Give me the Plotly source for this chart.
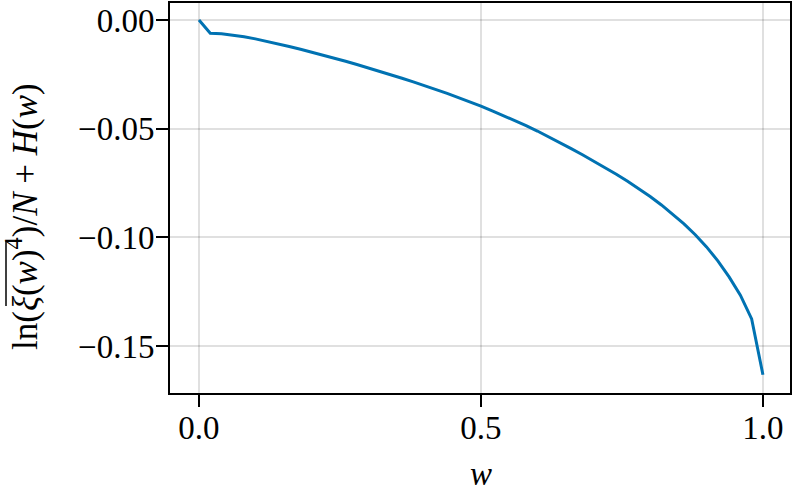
import plotly.graph_objects as go

w = [0.00, 0.02, 0.04, 0.06, 0.08, 0.10, 0.12, 0.14, 0.16, 0.18,
     0.20, 0.22, 0.24, 0.26, 0.28, 0.30, 0.32, 0.34, 0.36, 0.38,
     0.40, 0.42, 0.44, 0.46, 0.48, 0.50, 0.52, 0.54, 0.56, 0.58,
     0.60, 0.62, 0.64, 0.66, 0.68, 0.70, 0.72, 0.74, 0.76, 0.78,
     0.80, 0.82, 0.84, 0.86, 0.88, 0.90, 0.92, 0.94, 0.96, 0.98, 1.00]
val = [0.0000, -0.0061, -0.0063, -0.0069, -0.0077, -0.0087, -0.0098, -0.0110, -0.0122, -0.0135,
       -0.0148, -0.0162, -0.0176, -0.0190, -0.0205, -0.0220, -0.0236, -0.0252, -0.0268, -0.0285,
       -0.0302, -0.0320, -0.0338, -0.0357, -0.0376, -0.0396, -0.0418, -0.0440, -0.0463, -0.0486,
       -0.0511, -0.0537, -0.0564, -0.0592, -0.0620, -0.0649, -0.0679, -0.0710, -0.0742, -0.0776,
       -0.0812, -0.0851, -0.0893, -0.0938, -0.0988, -0.1044, -0.1108, -0.1182, -0.1266, -0.1375, -0.1632]

xticks = [0.0, 0.5, 1.0]
xticklabels = ["0.0", "0.5", "1.0"]
yticks = [0.0, -0.05, -0.10, -0.15]
yticklabels = ["0.00", "\u22120.05", "\u22120.10", "\u22120.15"]

font = "Liberation Serif"

fig = go.Figure()
fig.add_trace(go.Scatter(x=w, y=val, mode="lines",
                         line=dict(color="#0072B2", width=3), showlegend=False))

axis_common = dict(showline=True, linecolor="black", linewidth=2, mirror=True,
                   showgrid=True, gridcolor="rgba(0,0,0,0.12)", gridwidth=1.5,
                   zeroline=False, ticks="outside", ticklen=12, tickwidth=2,
                   automargin=False,
                   tickcolor="black", tickfont=dict(family=font, size=33, color="black"))

fig.update_layout(
    width=793, height=491,
    margin=dict(l=170, r=3, t=3, b=98),
    plot_bgcolor="white", paper_bgcolor="white",
    xaxis=dict(range=[-0.0514, 1.048], tickvals=xticks, ticktext=xticklabels,
               ticklabelstandoff=-8, **axis_common),
    yaxis=dict(range=[-0.1716, 0.0078], tickvals=yticks, ticktext=yticklabels,
               ticklabelstandoff=-5, **axis_common),
)

fig.add_annotation(xref="paper", yref="paper", x=(481 - 170) / 620,
                   y=-(474 - 393) / 390, text="<i>w</i>", showarrow=False,
                   font=dict(family=font, size=33, color="black"),
                   xanchor="center", yanchor="middle")

ylabel = "ln(<i>\u03be</i>(<i>w</i>)<sup>4</sup>)/<i>N</i> + <i>H</i>(<i>w</i>)"
fig.add_annotation(xref="paper", yref="paper", x=(22 - 170) / 620, y=(393 - 217) / 390,
                   text=ylabel, textangle=-90, showarrow=False,
                   font=dict(family=font, size=35, color="black"),
                   xanchor="center", yanchor="middle")

# overline over xi(w) in the rotated y label
fig.add_shape(type="line", xref="paper", yref="paper",
              x0=(6 - 170) / 620, x1=(6 - 170) / 620,
              y0=(393 - 306) / 390, y1=(393 - 241) / 390,
              line=dict(color="black", width=1.5))

fig.write_html("out.html", post_script="document.body.style.margin='0';",
               config={"displayModeBar": False})
